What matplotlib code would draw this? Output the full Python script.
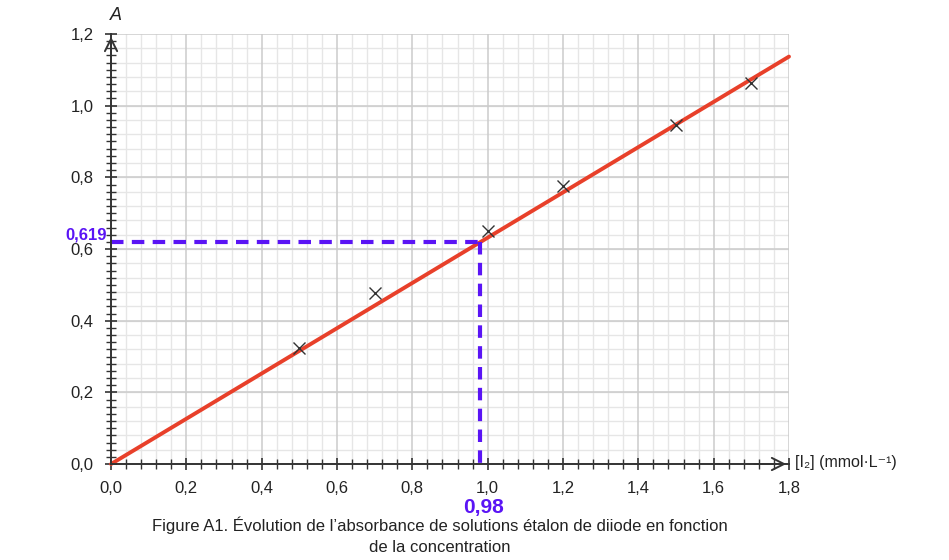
import matplotlib
matplotlib.use("Agg")
import matplotlib.pyplot as plt
import matplotlib.ticker as ticker
import numpy as np

# calibration data
conc = [0.5, 0.7, 1.0, 1.2, 1.5, 1.7]
absorb = [0.325, 0.477, 0.651, 0.777, 0.947, 1.064]

fit_x = [0.0, 1.8]
slope = 0.619 / 0.98
fit_y = [slope * v for v in fit_x]

read_x = 0.98
read_y = 0.619

x_ticks = [0.0, 0.2, 0.4, 0.6, 0.8, 1.0, 1.2, 1.4, 1.6, 1.8]
y_ticks = [0.0, 0.2, 0.4, 0.6, 0.8, 1.0, 1.2]

plt.rcParams['font.family'] = ['Liberation Sans', 'DejaVu Sans']

violet = '#5a14f5'
red = '#e8402a'
axis_color = '#333333'


def comma(v, pos):
    return f'{v:.1f}'.replace('.', ',')


fig = plt.figure(figsize=(9.49, 5.6), dpi=100)
ax = fig.add_axes([0.117, 0.1714, 0.7144, 0.7679])

ax.set_xlim(0, 1.8)
ax.set_ylim(0, 1.2)

ax.xaxis.set_major_locator(ticker.FixedLocator(x_ticks))
ax.yaxis.set_major_locator(ticker.FixedLocator(y_ticks))
ax.xaxis.set_minor_locator(ticker.MultipleLocator(0.04))
ax.yaxis.set_minor_locator(ticker.MultipleLocator(0.02))
ax.xaxis.set_major_formatter(ticker.FuncFormatter(comma))
ax.yaxis.set_major_formatter(ticker.FuncFormatter(comma))

# graph paper: minor squares of 0.04 x 0.04, darker lines every 0.2
ax.grid(which='major', color='#cbcbcb', linewidth=1.1, zorder=0)
ax.xaxis.grid(which='minor', color='#e6e6e6', linewidth=1.0, zorder=0)
for yv in np.arange(0.04, 1.2, 0.04):
    ax.axhline(yv, color='#e6e6e6', linewidth=1.0, zorder=0)
ax.set_axisbelow(True)

for side in ['top', 'right']:
    ax.spines[side].set_visible(False)
for side in ['bottom', 'left']:
    ax.spines[side].set_color(axis_color)
    ax.spines[side].set_linewidth(1.4)
    ax.spines[side].set_zorder(6)

ax.tick_params(which='both', direction='inout', color=axis_color,
               labelsize=12, labelcolor='#222222')
ax.tick_params(which='major', length=9, width=1.2, pad=8)
ax.tick_params(which='minor', length=7, width=1.0)

# arrow heads at the end of both axes
ax.annotate('', xy=(1.8, 0), xytext=(1.7, 0), annotation_clip=False,
            arrowprops=dict(arrowstyle='->', color=axis_color, lw=1.4,
                            mutation_scale=22))
ax.annotate('', xy=(0, 1.2), xytext=(0, 1.1), annotation_clip=False,
            arrowprops=dict(arrowstyle='->', color=axis_color, lw=1.4,
                            mutation_scale=22))

ax.plot(fit_x, fit_y, color=red, linewidth=2.8, zorder=3, clip_on=False,
        solid_capstyle='round')
ax.plot(conc, absorb, linestyle='none', marker='x', markersize=8,
        markeredgewidth=1.0, color='#333333', zorder=4)

# reading of the unknown sample
ax.plot([0, read_x], [read_y, read_y], color=violet, linewidth=3,
        dashes=(3, 2), zorder=5)
ax.plot([read_x, read_x], [read_y, 0], color=violet, linewidth=3,
        dashes=(3, 2), zorder=5)

fig.text(107 / 949, 1 - 235 / 560, '0,619', color=violet, fontsize=12,
         fontweight='bold', ha='right', va='center')
fig.text(483 / 949, 1 - 507 / 560, '0,98', color=violet, fontsize=15,
         fontweight='bold', ha='center', va='center')

fig.text(116 / 949, 1 - 15 / 560, 'A', fontsize=13, fontstyle='italic',
         ha='center', va='center', color='#222222')
fig.text(795 / 949, 1 - 463 / 560, '[I\u2082] (mmol\u00b7L\u207b\u00b9)',
         fontsize=11.5, ha='left', va='center', color='#222222')

fig.text(440 / 949, 1 - 525 / 560,
         "Figure A1. \u00c9volution de l\u2019absorbance de solutions "
         "\u00e9talon de diiode en fonction",
         fontsize=12, ha='center', va='center', color='#222222')
fig.text(440 / 949, 1 - 547 / 560, 'de la concentration',
         fontsize=12, ha='center', va='center', color='#222222')

fig.savefig('out.png', dpi=100)
